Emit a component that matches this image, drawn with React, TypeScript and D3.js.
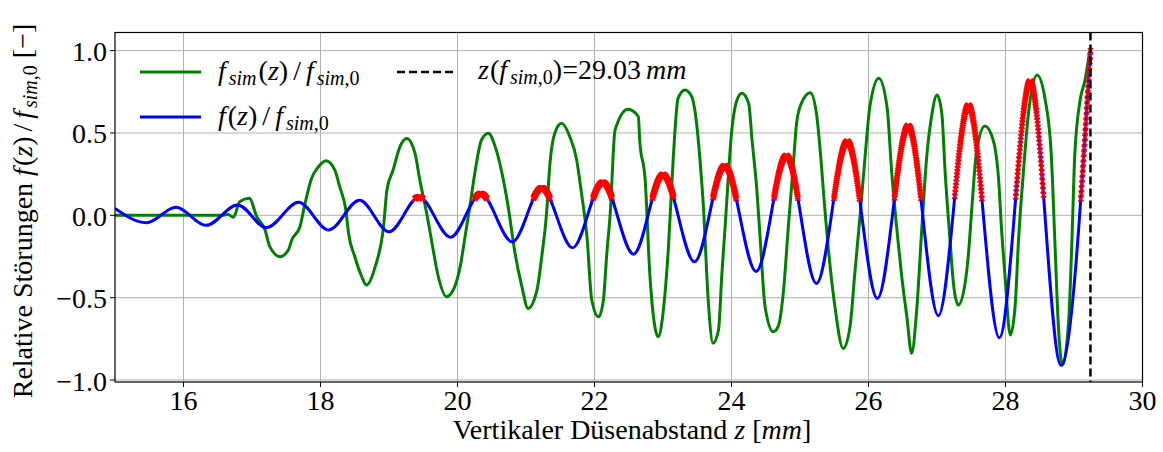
import React, { useLayoutEffect, useRef, useState } from "react";
import * as d3 from "d3";

// ---------- data ----------
const xTicks = [16, 18, 20, 22, 24, 26, 28, 30];
const yTicks = [-1.0, -0.5, 0.0, 0.5, 1.0];
const zMarker = 29.24; // position of the dashed line (label says 29.03 mm)
const redThreshold = 0.1;
const markerStepZ = 0.005; // spacing of the red "x" markers along z

// f(z)/f_sim,0 : extrema of the analytic curve
const blueZ = [15.0, 15.46, 15.89, 16.33, 16.79, 17.21, 17.68, 18.12, 18.57, 19.0, 19.44, 19.9, 20.34, 20.8, 21.23, 21.68, 22.12, 22.57, 23.0, 23.46, 23.9, 24.36, 24.8, 25.24, 25.69, 26.13, 26.58, 27.02, 27.46, 27.91, 28.36, 28.81, 29.24];
const blueV = [0.042, -0.045, 0.049, -0.061, 0.063, -0.075, 0.079, -0.089, 0.092, -0.1, 0.111, -0.133, 0.131, -0.161, 0.166, -0.197, 0.2, -0.236, 0.247, -0.282, 0.3, -0.341, 0.362, -0.414, 0.449, -0.505, 0.544, -0.61, 0.668, -0.744, 0.814, -0.91, 1.0];

// f_sim(z)/f_sim,0 : simulation curve
const greenZ = [15.0, 16.55, 16.65, 16.73, 16.82, 16.96, 17.07, 17.19, 17.26, 17.41, 17.53, 17.58, 17.7, 17.77, 17.87, 17.97, 18.08, 18.21, 18.28, 18.37, 18.41, 18.5, 18.6, 18.67, 18.8, 18.92, 18.97, 19.06, 19.16, 19.26, 19.38, 19.45, 19.55, 19.62, 19.72, 19.84, 19.96, 20.04, 20.11, 20.18, 20.26, 20.35, 20.45, 20.55, 20.65, 20.74, 20.84, 20.94, 21.03, 21.16, 21.23, 21.3, 21.35, 21.42, 21.52, 21.64, 21.74, 21.81, 21.89, 21.96, 22.06, 22.13, 22.18, 22.23, 22.3, 22.49, 22.64, 22.66, 22.74, 22.81, 22.93, 23.0, 23.08, 23.15, 23.22, 23.32, 23.42, 23.49, 23.54, 23.59, 23.66, 23.73, 23.81, 23.86, 23.91, 24.0, 24.08, 24.15, 24.25, 24.3, 24.37, 24.42, 24.49, 24.61, 24.68, 24.76, 24.83, 24.9, 24.95, 25.02, 25.15, 25.24, 25.29, 25.36, 25.44, 25.51, 25.63, 25.73, 25.8, 25.88, 25.95, 26.02, 26.15, 26.27, 26.34, 26.41, 26.48, 26.56, 26.63, 26.7, 26.78, 26.85, 26.92, 27.0, 27.07, 27.12, 27.19, 27.24, 27.31, 27.41, 27.46, 27.51, 27.58, 27.7, 27.82, 27.9, 27.94, 27.99, 28.07, 28.14, 28.19, 28.26, 28.33, 28.46, 28.58, 28.67, 28.72, 28.77, 28.83, 28.92, 28.97, 29.01, 29.09, 29.16, 29.23];
const greenV = [0, 0, 0.005, -0.012, 0.083, 0.103, -0.008, -0.089, -0.19, -0.251, -0.211, -0.15, -0.069, 0.063, 0.225, 0.295, 0.332, 0.275, 0.174, 0.032, -0.11, -0.25, -0.37, -0.423, -0.31, -0.069, 0.154, 0.275, 0.417, 0.467, 0.376, 0.214, 0.012, -0.15, -0.373, -0.494, -0.433, -0.31, -0.13, 0.052, 0.275, 0.457, 0.498, 0.417, 0.255, 0.052, -0.231, -0.433, -0.565, -0.454, -0.251, 0.012, 0.316, 0.498, 0.559, 0.477, 0.336, 0.134, -0.13, -0.514, -0.616, -0.514, -0.231, 0.012, 0.518, 0.644, 0.599, 0.457, 0.214, -0.373, -0.737, -0.595, -0.19, 0.35, 0.71, 0.761, 0.72, 0.559, 0.336, 0.052, -0.514, -0.777, -0.696, -0.352, -0.049, 0.498, 0.7, 0.741, 0.68, 0.457, 0.154, -0.15, -0.555, -0.707, -0.676, -0.454, -0.069, 0.295, 0.559, 0.68, 0.744, 0.619, 0.417, 0.052, -0.312, -0.555, -0.808, -0.676, -0.352, 0.012, 0.356, 0.66, 0.832, 0.66, 0.255, -0.069, -0.352, -0.616, -0.838, -0.595, -0.069, 0.356, 0.599, 0.73, 0.619, 0.255, -0.15, -0.413, -0.545, -0.413, -0.231, 0.052, 0.396, 0.542, 0.457, 0.214, -0.069, -0.352, -0.727, -0.555, -0.15, 0.255, 0.599, 0.852, 0.7, 0.356, -0.15, -0.656, -0.909, -0.656, -0.15, 0.356, 0.7, 0.82, 1.0];

// ---------- layout ----------
const W = 1163;
const H = 452;
const left = 115;
const right = 1142.5;
const top = 32.5;
const bottom = 382;
const FONT = "Liberation Serif, Times New Roman, serif";
const FS = 28; // main font size
const SUB = 20; // subscript font size
const SUBDY = 4.5;

// f_{sim} followed by optional ",0" subscript; resets baseline afterwards via the next tspan
function FSimSub({ zero }: { zero: boolean }) {
  return (
    <>
      <tspan fontStyle="italic">f</tspan>
      <tspan fontStyle="italic" fontSize={SUB} dx={3} dy={SUBDY}>sim</tspan>
      {zero ? <tspan fontSize={SUB}>,0</tspan> : null}
    </>
  );
}

export default function App() {
  const x = d3.scaleLinear().domain([15, 30]).range([left, right]);
  const y = d3.scaleLinear().domain([-1.012, 1.11]).range([bottom, top]);

  const line = d3
    .line<[number, number]>()
    .x((d) => x(d[0]))
    .y((d) => y(d[1]))
    .curve(d3.curveMonotoneX);

  const blueData: [number, number][] = blueZ.map((z, i) => [z, blueV[i]]);
  const greenData: [number, number][] = greenZ.map((z, i) => [z, greenV[i]]);
  const bluePath = line(blueData) || "";
  const greenPath = line(greenData) || "";
  const fmt = d3.format(".1f");

  const blueRef = useRef<SVGPathElement>(null);
  const [redD, setRedD] = useState("");

  useLayoutEffect(() => {
    const p = blueRef.current;
    if (!p) return;
    const L = p.getTotalLength();
    const pts: [number, number][] = [];
    for (let l = 0; l <= L; l += 0.5) {
      const q = p.getPointAtLength(l);
      pts.push([q.x, q.y]);
    }
    const q = p.getPointAtLength(L);
    pts.push([q.x, q.y]);
    const thrY = y(redThreshold);
    const step = x(15 + markerStepZ) - x(15);
    const s = 2.6;
    let j = 0;
    let d = "";
    const xEnd = pts[pts.length - 1][0];
    for (let px = pts[0][0]; px <= xEnd + 0.001; px += step) {
      while (j < pts.length - 2 && pts[j + 1][0] < px) j++;
      const [x0, y0] = pts[j];
      const [x1, y1] = pts[j + 1];
      const t = x1 === x0 ? 0 : Math.max(0, Math.min(1, (px - x0) / (x1 - x0)));
      const py = y0 + t * (y1 - y0);
      if (py <= thrY) {
        d += `M${(px - s).toFixed(2)},${(py - s).toFixed(2)}L${(px + s).toFixed(2)},${(py + s).toFixed(2)}M${(px - s).toFixed(2)},${(py + s).toFixed(2)}L${(px + s).toFixed(2)},${(py - s).toFixed(2)}`;
      }
    }
    setRedD(d);
  }, [bluePath]);

  return (
    <svg
      width={W}
      height={H}
      style={{ position: "absolute", left: 0, top: 0, display: "block", background: "#fff" }}
      fontFamily={FONT}
    >
      <defs>
        <clipPath id="plotClip">
          <rect x={left} y={top - 4} width={right - left + 4} height={bottom - top + 4} />
        </clipPath>
      </defs>

      {/* grid */}
      <g stroke="#b0b0b0" strokeWidth={1}>
        {xTicks.map((t) => (
          <line key={"gx" + t} x1={x(t)} x2={x(t)} y1={top} y2={bottom} />
        ))}
        {yTicks.map((t) => (
          <line key={"gy" + t} x1={left} x2={right} y1={y(t)} y2={y(t)} />
        ))}
      </g>

      {/* series */}
      <g clipPath="url(#plotClip)">
        <path d={greenPath} fill="none" stroke="#008000" strokeWidth={3} strokeLinejoin="round" />
        <path ref={blueRef} d={bluePath} fill="none" stroke="#0000ff" strokeWidth={3} />
        <path d={redD} fill="none" stroke="#ff0000" strokeWidth={1.6} />
      </g>
      <line
        x1={x(zMarker)}
        x2={x(zMarker)}
        y1={top}
        y2={bottom}
        stroke="#000"
        strokeWidth={2.5}
        strokeDasharray="8,4"
      />

      {/* frame */}
      <rect x={left} y={top} width={right - left} height={bottom - top} fill="none" stroke="#000" strokeWidth={1.2} />

      {/* x ticks */}
      <g>
        {xTicks.map((t) => (
          <g key={"xt" + t}>
            <line x1={x(t)} x2={x(t)} y1={bottom} y2={bottom + 5} stroke="#000" strokeWidth={1} />
            <text x={x(t)} y={410} fontSize={FS} textAnchor="middle" fill="#000">
              {d3.format("d")(t)}
            </text>
          </g>
        ))}
      </g>
      {/* y ticks */}
      <g>
        {yTicks.map((t) => (
          <g key={"yt" + t}>
            <line x1={left - 5} x2={left} y1={y(t)} y2={y(t)} stroke="#000" strokeWidth={1} />
            <text x={107} y={y(t) + 10.5} fontSize={FS} textAnchor="end" fill="#000">
              {fmt(t)}
            </text>
          </g>
        ))}
      </g>

      {/* axis labels */}
      <text x={632} y={439} fontSize={FS} textAnchor="middle" fill="#000">
        <tspan>Vertikaler Düsenabstand </tspan>
        <tspan fontStyle="italic">z</tspan>
        <tspan> [</tspan>
        <tspan fontStyle="italic">mm</tspan>
        <tspan>]</tspan>
      </text>
      <text
        transform={`translate(32, 211) rotate(-90)`}
        fontSize={FS}
        textAnchor="middle"
        fill="#000"
      >
        <tspan>Relative Störungen </tspan>
        <tspan fontStyle="italic">f</tspan>
        <tspan dx={2}>(</tspan>
        <tspan fontStyle="italic">z</tspan>
        <tspan>)</tspan>
        <tspan dx={5}>/</tspan>
        <tspan dx={5} fontStyle="italic">f</tspan>
        <tspan fontStyle="italic" fontSize={SUB} dx={3} dy={SUBDY}>sim</tspan>
        <tspan fontSize={SUB}>,0</tspan>
        <tspan dy={-SUBDY} dx={7}>[−]</tspan>
      </text>

      {/* legend */}
      <g>
        <line x1={140} x2={201} y1={72} y2={72} stroke="#008000" strokeWidth={3} />
        <text x={218} y={80} fontSize={FS} fill="#000">
          <FSimSub zero={false} />
          <tspan dx={2} dy={-SUBDY}>(</tspan>
          <tspan fontStyle="italic">z</tspan>
          <tspan>)</tspan>
          <tspan dx={5}>/</tspan>
          <tspan dx={5} fontStyle="italic">f</tspan>
          <tspan fontStyle="italic" fontSize={SUB} dx={3} dy={SUBDY}>sim</tspan>
          <tspan fontSize={SUB}>,0</tspan>
        </text>

        <line x1={140} x2={201} y1={117} y2={117} stroke="#0000ff" strokeWidth={3} />
        <text x={218} y={125} fontSize={FS} fill="#000">
          <tspan fontStyle="italic">f</tspan>
          <tspan dx={2}>(</tspan>
          <tspan fontStyle="italic">z</tspan>
          <tspan>)</tspan>
          <tspan dx={5}>/</tspan>
          <tspan dx={5} fontStyle="italic">f</tspan>
          <tspan fontStyle="italic" fontSize={SUB} dx={3} dy={SUBDY}>sim</tspan>
          <tspan fontSize={SUB}>,0</tspan>
        </text>

        <line x1={397} x2={456} y1={72} y2={72} stroke="#000" strokeWidth={2.5} strokeDasharray="8,4" />
        <text x={478} y={79} fontSize={FS} fill="#000">
          <tspan fontStyle="italic">z</tspan>
          <tspan dx={1}>(</tspan>
          <tspan fontStyle="italic">f</tspan>
          <tspan fontStyle="italic" fontSize={SUB} dx={3} dy={SUBDY}>sim</tspan>
          <tspan fontSize={SUB}>,0</tspan>
          <tspan dy={-SUBDY}>)=29.03</tspan>
          <tspan fontStyle="italic" dx={5}>mm</tspan>
        </text>
      </g>
    </svg>
  );
}
